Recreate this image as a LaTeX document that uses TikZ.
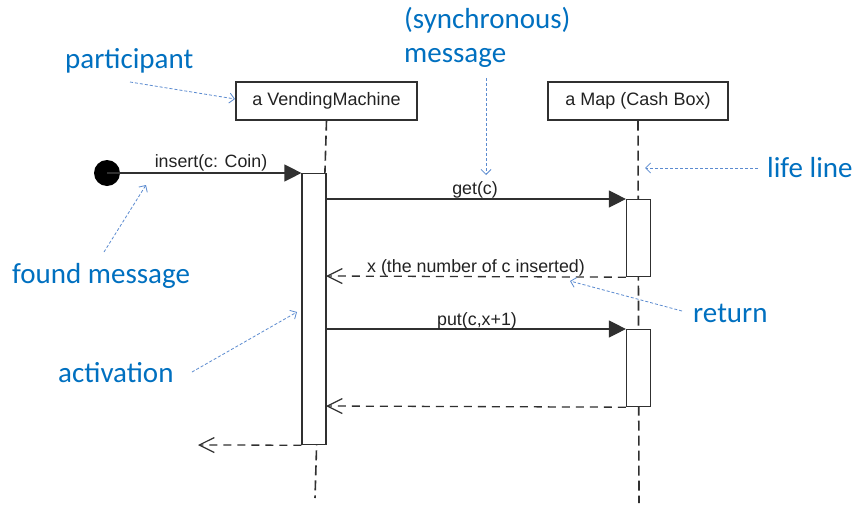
\documentclass[tikz,border=0pt]{standalone}
\usepackage{fontspec}
\setmainfont{Liberation Sans}
\newfontfamily\annfont{Carlito}
\usetikzlibrary{arrows.meta}
\definecolor{ann}{HTML}{0070C0}
\definecolor{annline}{HTML}{5B8BD0}
\definecolor{ink}{HTML}{303030}
\definecolor{txt}{HTML}{222222}
\begin{document}
\begin{tikzpicture}[x=1pt,y=-1pt,
  partbox/.style={draw=ink,line width=1.2pt,fill=white,minimum height=38pt,inner sep=0pt,font=\fontsize{18}{21}\selectfont,text=txt},
  actbox/.style={draw=ink,line width=1.2pt,fill=white,minimum width=24pt,inner sep=0pt,anchor=north},
  lifeline/.style={draw=ink,line width=1.6pt,dash pattern=on 10pt off 5pt},
  syncmsg/.style={draw=ink,line width=1.2pt,-{Triangle[length=17pt,width=17pt]}},
  retmsg/.style={draw=ink,line width=1.3pt,dash pattern=on 8pt off 6pt,-{Straight Barb[length=15pt,width=15pt,line width=1.2pt]}},
  msglabel/.style={font=\fontsize{17.8}{20}\selectfont,text=txt,inner sep=0pt,anchor=base},
  annlabel/.style={font=\annfont\fontsize{29}{32}\selectfont,text=ann,inner sep=0pt,anchor=base west,align=left},
  annarrow/.style={draw=annline,line width=0.8pt,dash pattern=on 3pt off 2pt,-{Straight Barb[length=5pt,width=10pt,line width=0.8pt]}},
]
\useasboundingbox (0,0) rectangle (858,506);
\fill[white] (0,0) rectangle (858,506);

% participants
\node[partbox,minimum width=181pt] (vm) at (326.5,101) {a VendingMachine};
\node[partbox,minimum width=180pt] (map) at (638,101) {a Map (Cash Box)};

% lifelines
\coordinate (vmEnd) at (315,498);
\coordinate (mapEnd) at (639,503);
\draw[lifeline] (vm.south) -- (vmEnd);
\draw[lifeline] (map.south) -- (mapEnd);

% activations
\node[actbox,minimum height=271pt] (actVM) at (314,173) {};
\node[actbox,minimum height=77pt] (actMap1) at (638.5,199) {};
\node[actbox,minimum height=77pt] (actMap2) at (638.5,329) {};

% found message
\node[circle,fill=black,minimum size=26pt,inner sep=0pt] (dot) at (107,173) {};
\draw[syncmsg] (dot.center) -- (actVM.north west);
\node[msglabel] (lInsert) at (211,167) {insert(c: Coin)};

% get
\coordinate (getS) at (326,199);
\draw[syncmsg] (getS) -- (actMap1.north west);
\node[msglabel] (lGet) at (475,194) {get(c)};

% return x
\coordinate (retX) at (326,276);
\draw[retmsg] (actMap1.south west) -- (retX);
\node[msglabel] (lRet) at (476,272) {x (the number of c inserted)};

% put
\coordinate (putS) at (326,329);
\draw[syncmsg] (putS) -- (actMap2.north west);
\node[msglabel] (lPut) at (477,325) {put(c,x+1)};

% return 2
\coordinate (ret2) at (326,406);
\draw[retmsg] (actMap2.south west) -- (ret2);

% final return
\coordinate (retOut) at (198,445);
\draw[retmsg] (actVM.south west) -- (retOut);

% annotations
\node[annlabel] (aPart) at (65,68) {participant};
\coordinate (aPartS) at (130,82);
\coordinate (aPartE) at (235,99);
\draw[annarrow] (aPartS) -- (aPartE);

\node[annlabel] (aSync1) at (404,28) {(synchronous)};
\node[annlabel] (aSync2) at (404,62) {message};
\coordinate (aSyncS) at (486,78);
\coordinate (aSyncE) at (486,175);
\draw[annarrow] (aSyncS) -- (aSyncE);

\node[annlabel] (aLife) at (767,177) {life line};
\coordinate (aLifeS) at (758,168);
\coordinate (aLifeE) at (645,168);
\draw[annarrow] (aLifeS) -- (aLifeE);

\node[annlabel] (aFound) at (12,283) {found message};
\coordinate (aFoundS) at (104,252);
\coordinate (aFoundE) at (146,185);
\draw[annarrow] (aFoundS) -- (aFoundE);

\node[annlabel] (aAct) at (58,382) {activation};
\coordinate (aActS) at (192,372);
\coordinate (aActE) at (297,312);
\draw[annarrow] (aActS) -- (aActE);

\node[annlabel] (aRet) at (693,322) {return};
\coordinate (aRetS) at (682,311);
\coordinate (aRetE) at (570,281);
\draw[annarrow] (aRetS) -- (aRetE);
\end{tikzpicture}
\end{document}
